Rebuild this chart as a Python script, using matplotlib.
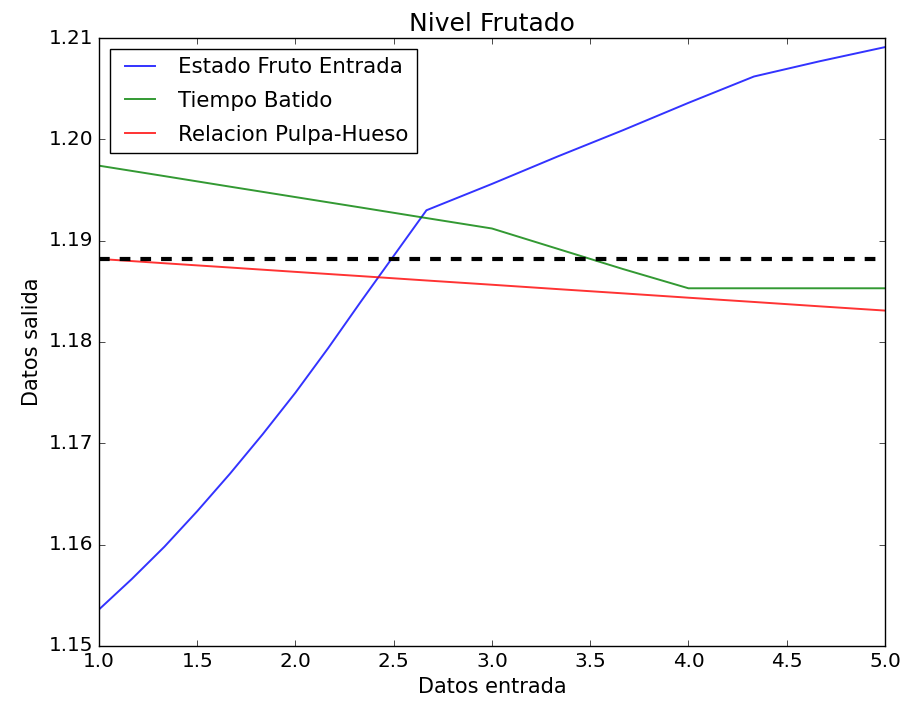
import matplotlib
matplotlib.use("Agg")
import matplotlib.pyplot as plt

plt.style.use('classic')

x = [1.0, 4/3, 5/3, 2.0, 7/3, 8/3, 3.0, 10/3, 11/3, 4.0, 13/3, 14/3, 5.0]
x_fruto = [1.0, 7/6, 4/3, 1.5, 5/3, 11/6, 2.0, 13/6, 7/3, 2.5, 8/3,
           3.0, 10/3, 11/3, 4.0, 13/3, 14/3, 5.0]
estado_fruto = [1.1536, 1.1566, 1.1598, 1.1633, 1.1670, 1.1709, 1.1750,
                1.1794, 1.1840, 1.1885, 1.1930,
                1.1956, 1.1983, 1.2009, 1.2036, 1.2062, 1.2077, 1.2091]
tiempo_batido = [1.1974, 1.19637, 1.19533, 1.1943, 1.19327, 1.19223,
                 1.1912, 1.1892, 1.1872, 1.1853, 1.1853, 1.1853, 1.1853]
relacion_pulpa = [1.1882, 1.18777, 1.18735, 1.18692, 1.1865, 1.18607,
                  1.18565, 1.18522, 1.1848, 1.18437, 1.18395, 1.18352, 1.1831]
ref_x = [1.0, 5.0]
ref_y = [1.1882, 1.1882]

fig = plt.figure(figsize=(9.03, 7.09), dpi=100, facecolor='white')
ax = fig.add_axes([0.1096, 0.0889, 0.8704, 0.8575])

ax.plot(x_fruto, estado_fruto, color='b', lw=1.4, alpha=0.8, label='Estado Fruto Entrada')
ax.plot(x, tiempo_batido, color='g', lw=1.4, alpha=0.8, label='Tiempo Batido')
ax.plot(x, relacion_pulpa, color='r', lw=1.4, alpha=0.8, label='Relacion Pulpa-Hueso')
ax.plot(ref_x, ref_y, color='k', lw=3, linestyle=(0, (7.7, 7.2)))

ax.set_xlim(1.0, 5.0)
ax.set_ylim(1.15, 1.21)
ax.set_xticks([1.0, 1.5, 2.0, 2.5, 3.0, 3.5, 4.0, 4.5, 5.0])
ax.set_yticks([1.15, 1.16, 1.17, 1.18, 1.19, 1.20, 1.21])
ax.set_xticklabels(['1.0', '1.5', '2.0', '2.5', '3.0', '3.5', '4.0', '4.5', '5.0'])
ax.set_yticklabels(['1.15', '1.16', '1.17', '1.18', '1.19', '1.20', '1.21'])
ax.tick_params(labelsize=14.4)

ax.set_title('Nivel Frutado', fontsize=18)
ax.set_xlabel('Datos entrada', fontsize=15)
ax.set_ylabel('Datos salida', fontsize=15)

ax.legend(loc='upper left', fontsize=15.4, labelspacing=0.64)

fig.savefig('out.png', dpi=100, facecolor='white')
